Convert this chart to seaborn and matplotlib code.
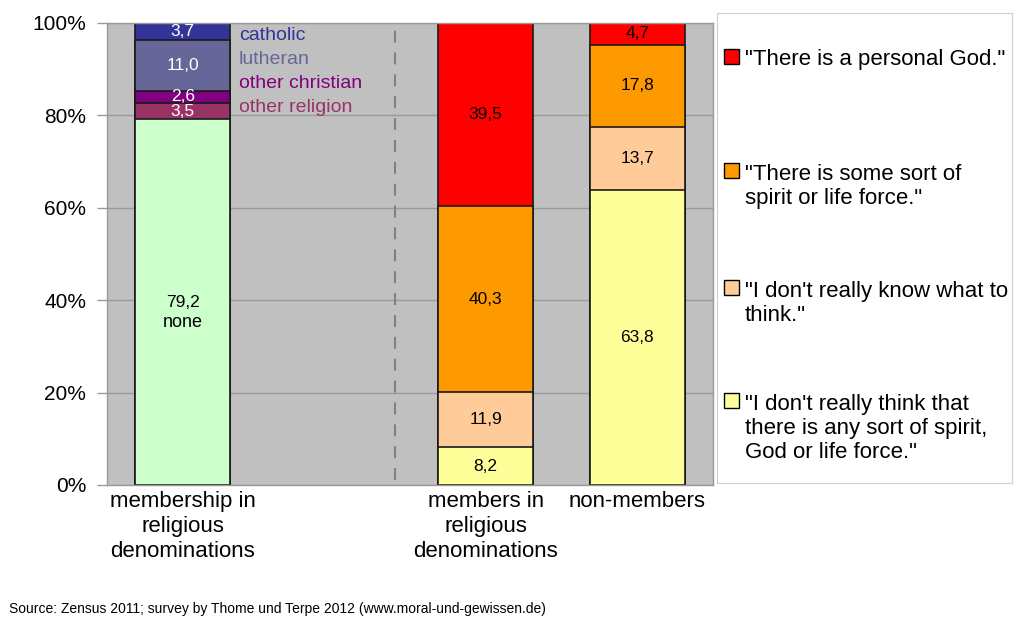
import pandas as pd
import seaborn as sns
import matplotlib.pyplot as plt
from matplotlib.patches import Rectangle

# categories on the x axis (the empty one is the gap behind the dashed line)
bars = ['membership in\nreligious\ndenominations', '', 'members in\nreligious\ndenominations', 'non-members']

# left bar, bottom to top
membership_keys = ['none', 'other religion', 'other christian', 'lutheran', 'catholic']
membership_values = [79.2, 3.5, 2.6, 11.0, 3.7]
membership_colors = ['#CCFFCC', '#993366', '#800080', '#666699', '#333399']

# belief answers, bottom to top
belief_keys = ['no spirit', 'dont know', 'spirit', 'personal god']
belief_labels = ['"I don\'t really think that\nthere is any sort of spirit,\nGod or life force."',
                 '"I don\'t really know what to\nthink."',
                 '"There is some sort of\nspirit or life force."',
                 '"There is a personal God."']
belief_colors = ['#FFFF99', '#FFCC99', '#FF9900', '#FF0000']
members_values = [8.2, 11.9, 40.3, 39.5]
nonmembers_values = [63.8, 13.7, 17.8, 4.7]

source = 'Source: Zensus 2011; survey by Thome und Terpe 2012 (www.moral-und-gewissen.de)'

# build long table with cumulative tops so bars can be layered
rows = []
for bar, keys, vals in [(bars[0], membership_keys, membership_values),
                        (bars[2], belief_keys, members_values),
                        (bars[3], belief_keys, nonmembers_values)]:
    top = 0
    for k, v in zip(keys, vals):
        top += v
        rows.append({'bar': bar, 'segment': k, 'value': v, 'top': top})
df = pd.DataFrame(rows)

palette = dict(zip(membership_keys, membership_colors))
palette.update(dict(zip(belief_keys, belief_colors)))
# tallest cumulative segment first so lower ones are painted over it
hue_order = membership_keys[::-1] + belief_keys[::-1]

sns.set_style('white')
plt.rcParams['font.family'] = ['Liberation Sans', 'DejaVu Sans']
plt.rcParams['text.color'] = 'black'
plt.rcParams['xtick.labelcolor'] = 'black'
plt.rcParams['ytick.labelcolor'] = 'black'

fig = plt.figure(figsize=(10.19, 6.34), dpi=100)
ax = fig.add_axes([107 / 1019, 1 - 485 / 634, 606 / 1019, 462 / 634])
ax.set_facecolor('#C0C0C0')
ax.set_axisbelow(True)

sns.barplot(data=df, x='bar', y='top', hue='segment', order=bars, hue_order=hue_order,
            palette=palette, dodge=False, width=0.627, saturation=1, errorbar=None,
            edgecolor='#1a1a1a', linewidth=1.2, legend=False, ax=ax)

ax.set_ylim(0, 100)
ax.set_xlim(-0.5, 3.5)
ax.set_yticks(range(0, 101, 20))
ax.set_yticklabels([f'{v}%' for v in range(0, 101, 20)], fontsize=15, color='black')
ax.yaxis.grid(True, color='#9a9a9a', lw=1)
ax.xaxis.grid(False)
ax.tick_params(axis='y', length=7, width=1, color='#9a9a9a', pad=8, left=True, labelcolor='black')
ax.tick_params(axis='x', length=0, pad=4, labelsize=16, labelcolor='black')
for lbl in ax.get_xticklabels():
    lbl.set_linespacing(1.25)
ax.set_xlabel('')
ax.set_ylabel('')
for s in ax.spines.values():
    s.set_color('#9a9a9a')
    s.set_linewidth(1)

ax.axvline(1.4, color='#808080', lw=1.5, ls=(0, (5.7, 4.8)), ymin=0.01, ymax=0.995)

# value labels
white_keys = ['other religion', 'other christian', 'lutheran', 'catholic']
for _, r in df.iterrows():
    x = bars.index(r['bar'])
    y = r['top'] - r['value'] / 2
    col = 'white' if r['segment'] in white_keys else 'black'
    ax.text(x, y, f"{r['value']:.1f}".replace('.', ','), ha='center', va='center',
            fontsize=12.5, color=col)
ax.annotate('none', (0, membership_values[0] / 2), xytext=(0, -15), textcoords='offset points',
            ha='center', va='center', fontsize=13, color='black')

# names of the denominations beside the left bar
name_y = [97.4, 92.2, 87.0, 81.8]
for k, c, y in zip(membership_keys[::-1], membership_colors[::-1], name_y):
    ax.text(0.37, y, k, color=c, fontsize=14, ha='left', va='center')

# legend box drawn by hand so markers sit on the first line
lax = fig.add_axes([717 / 1019, 1 - 483 / 634, 295 / 1019, 470 / 634])
lax.set_xlim(0, 295)
lax.set_ylim(470, 0)
lax.set_xticks([])
lax.set_yticks([])
for s in lax.spines.values():
    s.set_color('#cfcfcf')
first_line_y = [45, 159, 276, 389]
pitch = 24.6
for lab, col, y in zip(belief_labels[::-1], belief_colors[::-1], first_line_y):
    n = lab.count('\n') + 1
    lax.add_patch(Rectangle((7, y - 9), 15, 15, facecolor=col, edgecolor='black', lw=1))
    lax.text(28, y + 2 + (n - 1) * pitch / 2, lab, fontsize=16, ha='left', va='center',
             linespacing=1.2, color='black')

fig.text(9 / 1019, 1 - 609 / 634, source, fontsize=10, ha='left', va='center', color='black')

fig.savefig('out.png', dpi=100, facecolor='white')
